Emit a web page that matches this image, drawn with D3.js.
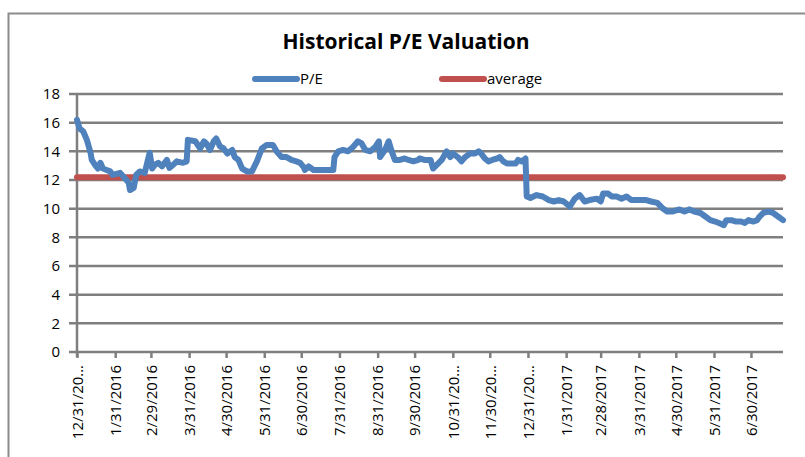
<!DOCTYPE html>
<html lang="en">
<head>
  <meta charset="UTF-8">
  <title>Historical P/E Valuation</title>
<script src="https://d3js.org/d3.v7.min.js"></script>
<style>
  body { margin: 0; background: #fff; }
  text { font-family: "Liberation Sans Narrow", "Arial Narrow", "Open Sans", sans-serif; fill: #000; }
</style>
</head>
<body>
<div id="chart"></div>

  <script>

// day offsets from 12/31/2015 and P/E values
const days = [0, 2, 5, 8, 11, 12, 15, 17, 19, 21, 24, 27, 29, 35, 39, 42, 43, 46, 48, 51,
  55, 59, 61, 63, 66, 69, 73, 75, 78, 81, 86, 89, 90, 96, 100, 103, 105, 108, 111, 113,
  116, 119, 122, 126, 128, 131, 134, 138, 142, 146, 150, 154, 159, 162, 166, 170, 174, 178, 181, 184,
  185, 188, 192, 197, 205, 208, 209, 212, 216, 220, 224, 228, 231, 234, 238, 242, 245, 246, 250, 253,
  255, 258, 262, 266, 269, 273, 277, 278, 282, 287, 289, 292, 296, 300, 303, 305, 309, 312, 315, 319,
  323, 326, 328, 331, 334, 337, 341, 343, 346, 349, 351, 356, 358, 361, 364, 365, 368, 373, 378, 383,
  387, 391, 395, 400, 404, 408, 412, 416, 422, 425, 427, 431, 434, 438, 442, 446, 450, 454, 458, 462,
  466, 471, 475, 479, 483, 489, 493, 497, 501, 506, 510, 514, 518, 521, 525, 527, 531, 535, 539, 542,
  545, 549, 552, 554, 557, 561, 565, 569, 573];
const pe = [16.2, 15.6, 15.4, 14.8, 13.9, 13.4, 13.0, 12.8, 13.2, 12.8, 12.7, 12.6, 12.35, 12.5, 12.1, 11.8, 11.3, 11.45, 12.35, 12.6,
  12.5, 13.9, 12.8, 13.05, 13.2, 12.95, 13.4, 12.85, 13.05, 13.3, 13.2, 13.3, 14.8, 14.7, 14.2, 14.7, 14.55, 14.1, 14.7, 14.9,
  14.35, 14.2, 13.85, 14.1, 13.6, 13.4, 12.8, 12.6, 12.6, 13.3, 14.2, 14.45, 14.45, 14.0, 13.6, 13.6, 13.4, 13.3, 13.2, 12.9,
  12.7, 12.95, 12.7, 12.7, 12.7, 12.7, 13.6, 14.0, 14.1, 14.0, 14.3, 14.7, 14.55, 14.1, 14.0, 14.3, 14.7, 13.6, 14.1, 14.7,
  14.1, 13.4, 13.4, 13.5, 13.4, 13.3, 13.4, 13.5, 13.4, 13.4, 12.8, 13.05, 13.4, 14.0, 13.6, 13.85, 13.6, 13.3, 13.6, 13.85,
  13.85, 14.0, 13.85, 13.5, 13.3, 13.4, 13.5, 13.6, 13.3, 13.15, 13.15, 13.15, 13.4, 13.3, 13.5, 10.85, 10.75, 10.95, 10.85, 10.6,
  10.5, 10.6, 10.5, 10.15, 10.7, 10.95, 10.5, 10.6, 10.7, 10.5, 11.05, 11.05, 10.85, 10.85, 10.7, 10.85, 10.6, 10.6, 10.6, 10.6,
  10.5, 10.4, 10.05, 9.8, 9.8, 9.95, 9.8, 9.95, 9.8, 9.7, 9.45, 9.2, 9.1, 9.0, 8.85, 9.2, 9.2, 9.1, 9.1, 9.0,
  9.2, 9.1, 9.2, 9.45, 9.7, 9.8, 9.7, 9.45, 9.2];
const average = 12.2;

const tickDates = ['2015-12-31', '2016-01-31', '2016-02-29', '2016-03-31', '2016-04-30', '2016-05-31',
  '2016-06-30', '2016-07-31', '2016-08-31', '2016-09-30', '2016-10-31', '2016-11-30', '2016-12-31',
  '2017-01-31', '2017-02-28', '2017-03-31', '2017-04-30', '2017-05-31', '2017-06-30'];
const tickLabels = ['12/31/20…', '1/31/2016', '2/29/2016', '3/31/2016', '4/30/2016', '5/31/2016',
  '6/30/2016', '7/31/2016', '8/31/2016', '9/30/2016', '10/31/20…', '11/30/20…', '12/31/20…',
  '1/31/2017', '2/28/2017', '3/31/2017', '4/30/2017', '5/31/2017', '6/30/2017'];
const yTicks = [0, 2, 4, 6, 8, 10, 12, 14, 16, 18];

const width = 805;
const height = 457;
const margin = { left: 77, right: 22, top: 94, bottom: 105 };

const parse = d3.timeParse('%Y-%m-%d');
const start = parse('2015-12-31');
const data = days.map((d, i) => ({ date: d3.timeDay.offset(start, d), value: pe[i] }));

const svg = d3.select('#chart')
  .append('svg')
  .attr('width', width)
  .attr('height', height);

// outer chart frame
svg.append('rect')
  .attr('x', 8.5).attr('y', 13.5)
  .attr('width', 830).attr('height', 470)
  .attr('fill', 'none')
  .attr('stroke', '#8c8c8c')
  .attr('stroke-width', 2);

const x = d3.scaleTime()
  .domain([start, data[data.length - 1].date])
  .range([margin.left, width - margin.right]);

const y = d3.scaleLinear()
  .domain([0, 18])
  .range([height - margin.bottom, margin.top]);

// gridlines
svg.append('g')
  .selectAll('line')
  .data(yTicks)
  .enter()
  .append('line')
  .attr('x1', margin.left - 8)
  .attr('x2', width - margin.right)
  .attr('y1', d => y(d))
  .attr('y2', d => y(d))
  .attr('stroke', '#7f7f7f')
  .attr('stroke-width', 2.5);

// y axis
const yAxis = svg.append('g')
  .attr('transform', `translate(${margin.left},0)`)
  .call(d3.axisLeft(y).tickValues(yTicks).tickSize(0).tickPadding(17));
yAxis.select('.domain').remove();
yAxis.selectAll('text').attr('font-size', 15);

svg.append('line')
  .attr('x1', margin.left).attr('x2', margin.left)
  .attr('y1', y(18)).attr('y2', y(0) + 5)
  .attr('stroke', '#7f7f7f')
  .attr('stroke-width', 2.5);

// x axis
const xAxis = svg.append('g')
  .attr('transform', `translate(0,${y(0)})`)
  .call(d3.axisBottom(x)
    .tickValues(tickDates.map(parse))
    .tickFormat((d, i) => tickLabels[i])
    .tickSize(6));
xAxis.select('.domain').remove();
xAxis.selectAll('.tick line').attr('stroke', '#7f7f7f').attr('stroke-width', 2.5);
xAxis.selectAll('text')
  .attr('font-size', 15)
  .attr('text-anchor', 'end')
  .attr('dy', '0.35em')
  .attr('transform', 'translate(0,13) rotate(-90)')
  .attr('x', 0)
  .attr('y', 0);

// average line
svg.append('line')
  .attr('x1', margin.left).attr('x2', width - margin.right)
  .attr('y1', y(average)).attr('y2', y(average))
  .attr('stroke', '#C0504D')
  .attr('stroke-width', 6)
  .attr('stroke-linecap', 'round');

// P/E line
const line = d3.line()
  .x(d => x(d.date))
  .y(d => y(d.value));

svg.append('path')
  .datum(data)
  .attr('d', line)
  .attr('fill', 'none')
  .attr('stroke', '#4F81BD')
  .attr('stroke-width', 6)
  .attr('stroke-linejoin', 'round')
  .attr('stroke-linecap', 'round');

// title
svg.append('text')
  .attr('x', 406)
  .attr('y', 49)
  .attr('text-anchor', 'middle')
  .attr('font-size', 21)
  .attr('font-weight', 'bold')
  .text('Historical P/E Valuation');

// legend
const legend = [
  { label: 'P/E', color: '#4F81BD', x: 255 },
  { label: 'average', color: '#C0504D', x: 442 }
];
const lg = svg.append('g').selectAll('g').data(legend).enter().append('g');
lg.append('line')
  .attr('x1', d => d.x).attr('x2', d => d.x + 42)
  .attr('y1', 79).attr('y2', 79)
  .attr('stroke', d => d.color)
  .attr('stroke-width', 6)
  .attr('stroke-linecap', 'round');
lg.append('text')
  .attr('x', d => d.x + 45)
  .attr('y', 84)
  .attr('font-size', 15)
  .text(d => d.label);

  </script>
</body>
</html>
